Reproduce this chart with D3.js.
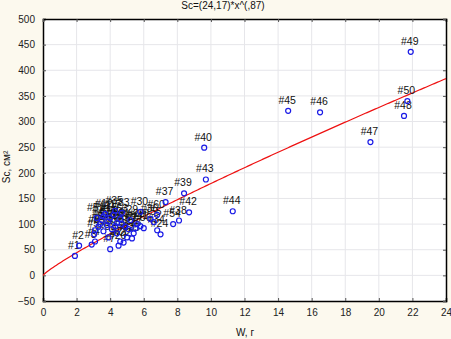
<!DOCTYPE html>
<html>
<head>
<meta charset="utf-8">
<script src="https://cdn.jsdelivr.net/npm/d3@7"></script>
<style>
  body { margin: 0; background: #fcf9ee; }
  text { font-family: "Liberation Sans", Arial, sans-serif; }
</style>
</head>
<body>
<svg width="451" height="339"></svg>
<script>
// point numbers, W (g) and Sc (cm2)
var ids = [1, 2, 3, 4, 5, 6, 7, 8, 9, 10,
  11, 12, 13, 14, 15, 16, 17, 18, 19, 20,
  21, 22, 23, 24, 25, 26, 27, 28, 29, 30,
  31, 32, 33, 34, 35, 36, 37, 38, 39, 40,
  41, 42, 43, 44, 45, 46, 47, 48, 49, 50,
  51, 52, 53, 54, 55, 56, 57, 58, 59, 60];
var wVals = [1.9, 2.15, 2.9, 3.1, 3.05, 3.1, 4.0, 3.3, 3.4, 3.5,
  3.6, 3.7, 3.8, 3.9, 4.0, 4.1, 4.2, 4.3, 4.4, 4.5,
  4.6, 4.8, 5.0, 7.0, 5.3, 5.4, 5.5, 5.6, 5.2, 5.8,
  4.7, 4.9, 4.7, 6.8, 4.3, 6.4, 7.3, 8.1, 8.4, 9.6,
  5.8, 8.7, 9.7, 11.3, 14.6, 16.5, 19.5, 21.5, 21.9, 21.7,
  3.2, 3.6, 4.6, 7.75, 6.6, 6.0, 5.1, 3.9, 4.4, 6.8];
var scVals = [38, 58, 60, 66, 80, 88, 51, 95, 100, 108,
  115, 120, 98, 105, 112, 90, 118, 96, 82, 58,
  66, 64, 74, 80, 72, 82, 92, 100, 108, 124,
  100, 95, 122, 88, 126, 110, 143, 107, 160, 249,
  96, 123, 187, 125, 321, 318, 260, 311, 436, 340,
  112, 86, 110, 100, 104, 92, 90, 74, 102, 118];

// fitted model from the title: Sc = a * W^b
var fitA = 24.17;
var fitB = 0.87;

var xTicks = [0, 2, 4, 6, 8, 10, 12, 14, 16, 18, 20, 22, 24];
var yTicks = [-50, 0, 50, 100, 150, 200, 250, 300, 350, 400, 450, 500];

var pLeft = 43, pRight = 446, pTop = 19, pBottom = 301;

var svg = d3.select('svg');

var x = d3.scaleLinear().domain([0, 24]).range([pLeft, pRight]);
var y = d3.scaleLinear().domain([-50, 500]).range([pBottom, pTop]);

svg.append('rect')
  .attr('x', pLeft).attr('y', pTop)
  .attr('width', pRight - pLeft).attr('height', pBottom - pTop)
  .attr('fill', '#ffffff');

// grid
svg.append('g').selectAll('line')
  .data(xTicks.slice(1, -1))
  .enter().append('line')
    .attr('x1', d => x(d)).attr('x2', d => x(d))
    .attr('y1', pTop).attr('y2', pBottom)
    .attr('stroke', '#e6e6ea').attr('stroke-width', 1);
svg.append('g').selectAll('line')
  .data(yTicks.slice(1, -1))
  .enter().append('line')
    .attr('x1', pLeft).attr('x2', pRight)
    .attr('y1', d => y(d)).attr('y2', d => y(d))
    .attr('stroke', '#e6e6ea').attr('stroke-width', 1);

// axes, ticks point inwards
var xAxis = d3.axisBottom(x).tickValues(xTicks).tickSize(-3).tickPadding(8);
var yAxis = d3.axisLeft(y).tickValues(yTicks).tickSize(-3).tickPadding(8);

svg.append('g')
  .attr('transform', 'translate(0,' + pBottom + ')')
  .call(xAxis);
svg.append('g')
  .attr('transform', 'translate(' + pLeft + ',0)')
  .call(yAxis);

svg.append('g')
  .attr('transform', 'translate(0,' + pTop + ')')
  .call(d3.axisTop(x).tickValues(xTicks).tickSize(-3).tickFormat(''));
svg.append('g')
  .attr('transform', 'translate(' + pRight + ',0)')
  .call(d3.axisRight(y).tickValues(yTicks).tickSize(-3).tickFormat(''));

svg.selectAll('.domain').attr('stroke', '#000').attr('stroke-width', 1.5);
svg.selectAll('.tick line').attr('stroke', '#555');
svg.selectAll('.tick text')
  .style('font-size', '10px')
  .attr('fill', '#222');

// fit curve
var curve = d3.range(0, 24.01, 0.1).map(w => [w, fitA * Math.pow(w, fitB)]);
svg.append('path')
  .datum(curve)
  .attr('fill', 'none')
  .attr('stroke', '#ee1111')
  .attr('stroke-width', 1.2)
  .attr('d', d3.line().x(d => x(d[0])).y(d => y(d[1])));

var pts = ids.map((id, i) => ({id: id, w: wVals[i], sc: scVals[i]}));

// point labels
svg.append('g').selectAll('text')
  .data(pts)
  .enter().append('text')
    .attr('x', d => x(d.w) - 1)
    .attr('y', d => y(d.sc) - 7)
    .attr('text-anchor', 'middle')
    .style('font-size', '10.5px')
    .attr('fill', '#111')
    .text(d => '#' + d.id);

svg.append('g').selectAll('circle')
  .data(pts)
  .enter().append('circle')
    .attr('cx', d => x(d.w))
    .attr('cy', d => y(d.sc))
    .attr('r', 2.5)
    .attr('fill', 'none')
    .attr('stroke', '#1a1ae6')
    .attr('stroke-width', 1.2);

// titles
svg.append('text')
  .attr('x', 223).attr('y', 9)
  .attr('text-anchor', 'middle')
  .style('font-size', '10px')
  .attr('fill', '#111')
  .text('Sc=(24,17)*x^(,87)');

svg.append('text')
  .attr('x', 245).attr('y', 336)
  .attr('text-anchor', 'middle')
  .style('font-size', '10px')
  .attr('fill', '#111')
  .text('W, г');

svg.append('text')
  .attr('transform', 'translate(10,167) rotate(-90)')
  .attr('text-anchor', 'middle')
  .style('font-size', '10px')
  .attr('fill', '#111')
  .text('Sc, см²');
</script>
</body>
</html>
